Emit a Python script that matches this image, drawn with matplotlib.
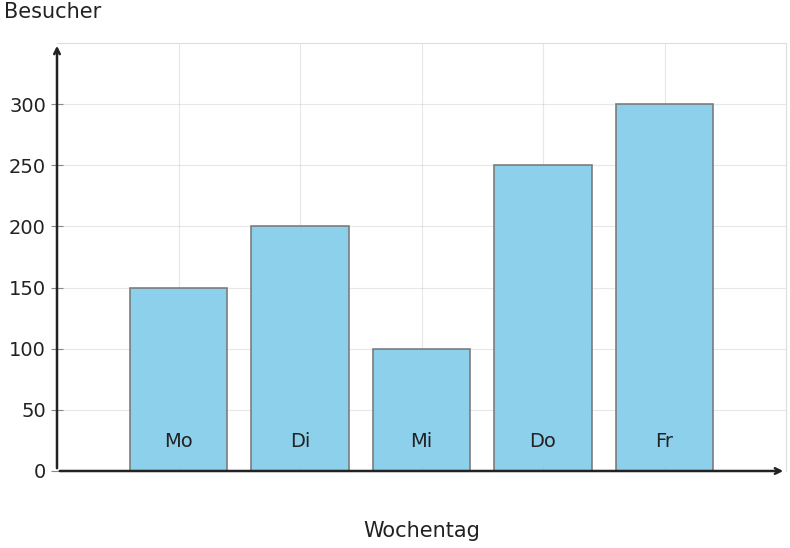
import matplotlib
matplotlib.use("Agg")
import matplotlib.pyplot as plt

days = ["Mo", "Di", "Mi", "Do", "Fr"]
visitors = [150, 200, 100, 250, 300]
yticks = [0, 50, 100, 150, 200, 250, 300]

fig = plt.figure(figsize=(7.9, 5.48), dpi=100)
ax = fig.add_axes([57/790, 77/548, 729/790, 428/548])
pos = list(range(1, len(days) + 1))
ax.set_xlim(0, 6)
ax.set_ylim(0, 350)
ax.set_axisbelow(True)
ax.grid(True, color="#cccccc", linewidth=1)
ax.bar(pos, visitors, width=0.8, color="#87CEEB", alpha=0.95, edgecolor="#777777", linewidth=1.2, zorder=2)
ax.grid(True, color="#bbbbbb", linewidth=0.8, alpha=0.35, zorder=3)
for p, d in zip(pos, days):
    ax.text(p, 24, d, ha="center", va="center", fontsize=14, color="#222222", zorder=4)
ax.set_xticks(pos)
ax.set_xticklabels([])
ax.set_yticks(yticks)
ax.set_yticklabels([str(v) for v in yticks], fontsize=14, color="#222222")
ax.tick_params(axis="x", direction="in", length=4, color="#888888")
ax.tick_params(axis="y", direction="inout", length=8, color="#888888", pad=4)
for s in ["left", "bottom"]:
    ax.spines[s].set_visible(False)
for s in ["top", "right"]:
    ax.spines[s].set_color("#dddddd")
ax.annotate("", xy=(1.0, 0), xytext=(0, 0), xycoords="axes fraction",
            arrowprops=dict(arrowstyle="->", color="#222222", lw=1.8), annotation_clip=False)
ax.annotate("", xy=(0, 1.0), xytext=(0, 0), xycoords="axes fraction",
            arrowprops=dict(arrowstyle="->", color="#222222", lw=1.8), annotation_clip=False)
fig.text(4/790, 1 - 12/548, "Besucher", fontsize=15, ha="left", va="center", color="#222222")
fig.text(422/790, 1 - 531/548, "Wochentag", fontsize=15, ha="center", va="center", color="#222222")
fig.savefig("out.png", dpi=100)
